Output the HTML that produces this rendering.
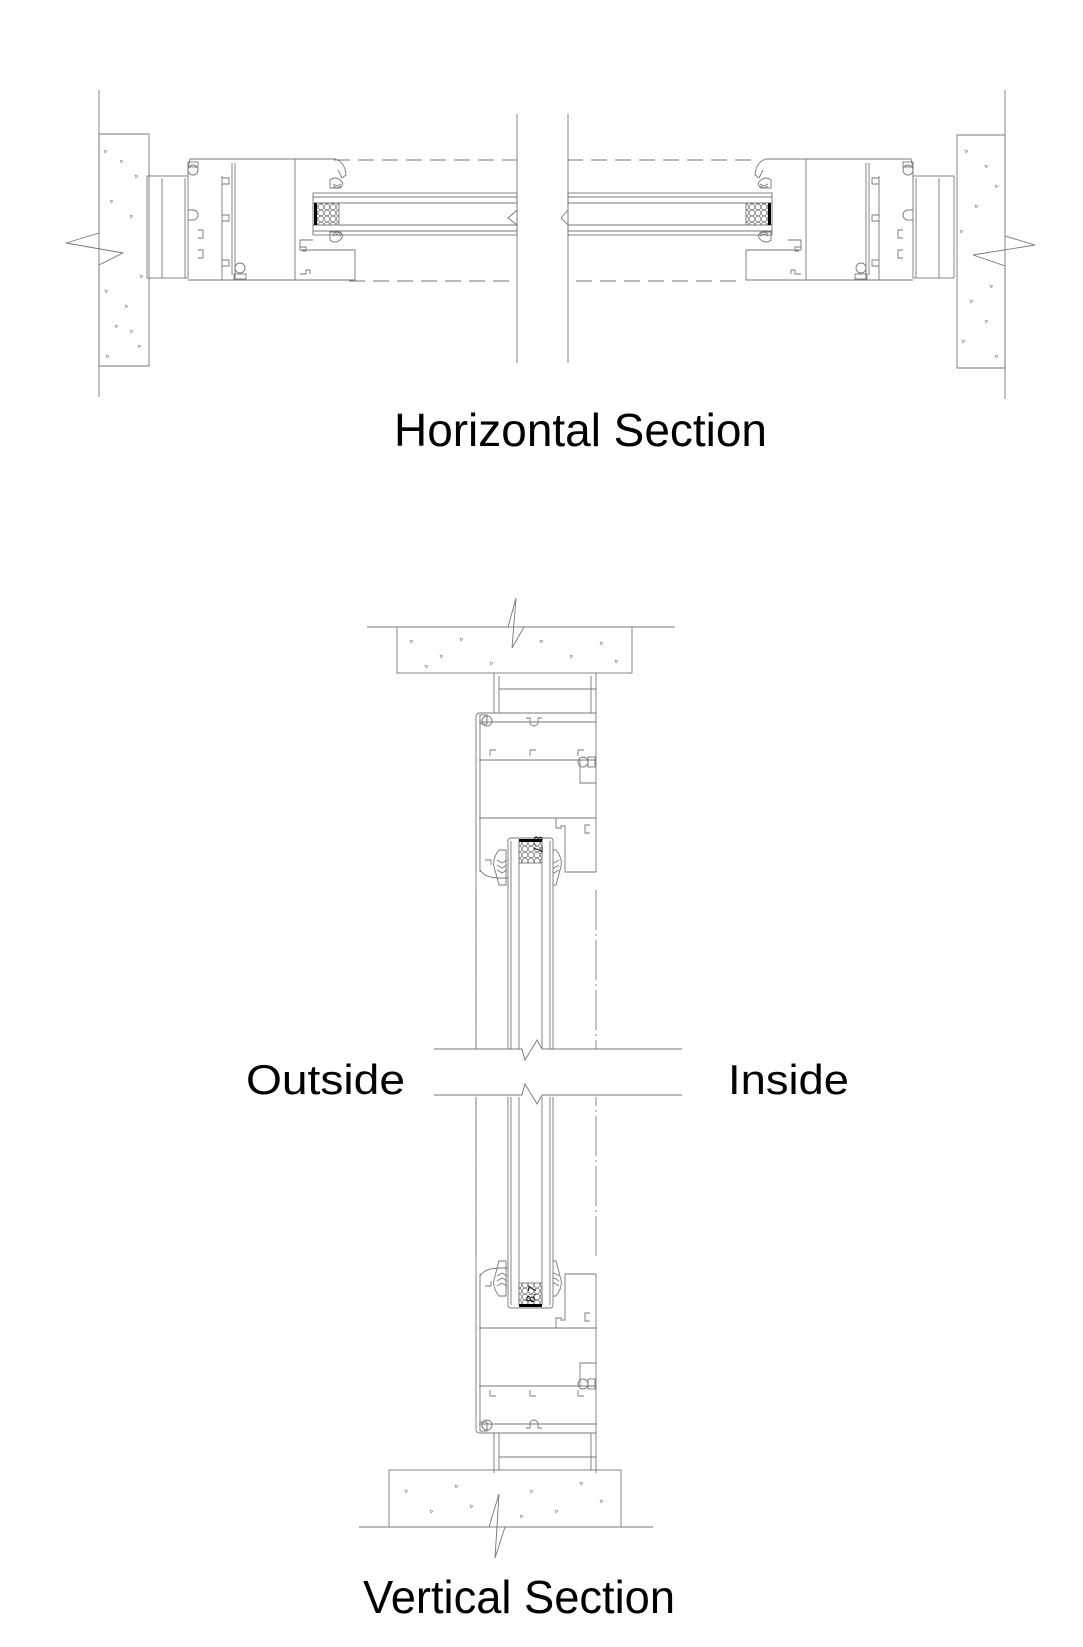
<!DOCTYPE html>
<html><head><meta charset="utf-8"><style>
html,body{margin:0;padding:0;background:#fff;}
svg{display:block}
text{font-family:"Liberation Sans",sans-serif;fill:#000}
</style></head><body>
<svg width="1083" height="1647" viewBox="0 0 1083 1647" xmlns="http://www.w3.org/2000/svg">
<defs>
<pattern id="hex" width="6" height="6" patternUnits="userSpaceOnUse">
<circle cx="3" cy="3" r="2.8" fill="none" stroke="#666" stroke-width="0.6"/>
</pattern>
<g id="speck">
<path d="M0 0 l3 1 l-2 2 z" fill="none" stroke="#888" stroke-width="0.6"/>
</g>
<!-- left half of horizontal section frame -->
<g id="hframe" fill="none" stroke="#777" stroke-width="0.9">
<rect x="147" y="176" width="41" height="102"/>
<line x1="162" y1="178" x2="162" y2="278"/>
<line x1="185" y1="178" x2="185" y2="278"/>
<path d="M188 178 V168 L190 159 H295 V280 H188"/>
<line x1="222" y1="176" x2="222" y2="280"/>
<line x1="235" y1="163" x2="235" y2="280"/>
<line x1="232" y1="163" x2="232" y2="275"/>
<path d="M188 210 h5 a5 5 0 0 1 0 10 h-5"/>
<path d="M198 230 h5 v8 h-5"/>
<path d="M198 250 h5 v8 h-5"/>
<path d="M222 215 h7 v6 h-7"/>
<path d="M222 178 h7 v6 h-7"/>
<path d="M222 260 h7 v6 h-7"/>
<circle cx="193" cy="170" r="5"/>
<rect x="188" y="162" width="10" height="5"/>
<circle cx="240" cy="268" r="5"/>
<rect x="234" y="274" width="12" height="5"/>
<path d="M295 159 H335 Q345 162 346 175 L342 178 L338 170"/>
<path d="M295 280 H355 V250 H300 V240 H313"/>
<path d="M300 247 h6 v4 h-4"/>
<path d="M300 274 h6 v-4 h4 v4"/>
<path d="M330 180 q5 -4 10 0 q5 4 0 8 h-10 z"/>
<path d="M330 240 q5 4 10 0 q5 -4 0 -8 h-10 z"/>
<path d="M333 184 l4 2 l4 -2 M333 186 l4 2 l4 -2 M333 236 l4 -2 l4 2 M333 234 l4 -2 l4 2"/>
</g>
<g id="hglass" fill="none" stroke="#777" stroke-width="0.9">
<rect x="313" y="193" width="204" height="42"/>
<line x1="313" y1="197" x2="517" y2="197"/>
<line x1="313" y1="203" x2="517" y2="203"/>
<line x1="313" y1="225" x2="517" y2="225"/>
<line x1="313" y1="231" x2="517" y2="231"/>
<rect x="316" y="203" width="23" height="22" fill="url(#hex)"/>
<rect x="314" y="203" width="3" height="22" fill="#000" stroke="none"/>
<path d="M334 160 H517" stroke-dasharray="16 8"/>
<path d="M349 281 H517" stroke-dasharray="16 8"/>
</g>
</defs>

<!-- ===== HORIZONTAL SECTION ===== -->
<g fill="none" stroke="#777" stroke-width="0.9">
<line x1="99" y1="90" x2="99" y2="397"/>
<line x1="1005" y1="90" x2="1005" y2="399"/>
<line x1="517" y1="114" x2="517" y2="363"/>
<line x1="568" y1="114" x2="568" y2="363"/>
<path d="M99 134 H149 V366 H99 V265 L123 253 L66 243 L99 233 Z"/>
<path d="M1005 135 H957 V368 H1005 V266 L973 255 L1035 245 L1005 236 Z"/>
<path d="M517 193 V210 L508 218 L517 225 V235"/>
<path d="M568 193 V210 L561 218 L568 225 V235"/>
</g>
<g>
<use href="#speck" x="104" y="150"/><use href="#speck" x="120" y="160"/><use href="#speck" x="135" y="175"/>
<use href="#speck" x="110" y="200"/><use href="#speck" x="130" y="215"/><use href="#speck" x="140" y="275"/>
<use href="#speck" x="105" y="290"/><use href="#speck" x="125" y="305"/><use href="#speck" x="115" y="325"/>
<use href="#speck" x="138" y="345"/><use href="#speck" x="106" y="355"/><use href="#speck" x="130" y="330"/>
<use href="#speck" x="965" y="150"/><use href="#speck" x="985" y="165"/><use href="#speck" x="995" y="185"/>
<use href="#speck" x="975" y="205"/><use href="#speck" x="960" y="230"/><use href="#speck" x="990" y="285"/>
<use href="#speck" x="970" y="300"/><use href="#speck" x="985" y="320"/><use href="#speck" x="962" y="340"/>
<use href="#speck" x="995" y="355"/>
</g>
<use href="#hframe"/>
<use href="#hglass"/>
<g transform="translate(1101,0) scale(-1,1)">
<use href="#hframe"/>
</g>
<g transform="translate(1085,0) scale(-1,1)">
<use href="#hglass"/>
</g>
<text x="394" y="446" font-size="46" textLength="373" lengthAdjust="spacingAndGlyphs">Horizontal Section</text>

<!-- ===== VERTICAL SECTION ===== -->
<defs>
<g id="vframe" fill="none" stroke="#777" stroke-width="0.9">
<path d="M494 673 V713 H596 V673"/>
<line x1="499" y1="689" x2="596" y2="689"/>
<line x1="499" y1="676" x2="499" y2="713"/>
<line x1="591" y1="676" x2="591" y2="713"/>
<path d="M480 713 H596 V760 M476 717 V1049"/>
<path d="M476 717 Q476 713 480 713"/>
<line x1="479" y1="722" x2="596" y2="722"/>
<line x1="479" y1="760" x2="596" y2="760"/>
<line x1="479" y1="818" x2="596" y2="818"/>
<line x1="480" y1="722" x2="480" y2="872"/>
<path d="M596 760 V872"/>
<path d="M580 760 V783 H596"/>
<path d="M530 722 a4 4 0 0 0 8 0"/>
<path d="M530 722 v-4 h-4 M538 722 v-4 h4"/>
<path d="M490 756 v-6 h6 M530 756 v-6 h6 M578 756 v-6 h6"/>
<circle cx="487" cy="721" r="5"/>
<rect x="480" y="715" width="7" height="9"/>
<circle cx="583" cy="762" r="5"/>
<rect x="588" y="757" width="7" height="10"/>
<path d="M556 818 v10 h6 M560 826 h5 V872 H596"/>
<path d="M590 825 h-5 v8 h5"/>
<path d="M480 870 Q485 878 500 878 H508"/>
<path d="M485 860 h6 v5"/>
<path d="M495 870 q-4 -10 4 -20 h7 v35 h-7 z"/>
<path d="M560 870 q4 -10 -4 -20 h-7 v35 h7 z"/>
<path d="M497 860 l5 3 l5 -3 M497 865 l5 3 l5 -3 M497 870 l5 3 l5 -3"/>
<path d="M549 860 l5 3 l5 -3 M549 865 l5 3 l5 -3 M549 870 l5 3 l5 -3"/>
<line x1="476" y1="890" x2="476" y2="1049" stroke-dasharray="40 4 2 4"/>
<line x1="596" y1="890" x2="596" y2="1049" stroke-dasharray="40 4 2 4"/>
<rect x="508" y="838" width="45" height="211" stroke="none" fill="#fff"/>
<path d="M508 1049 V841 Q508 838 511 838 H550 Q553 838 553 841 V1049"/>
<line x1="511" y1="841" x2="511" y2="1049"/>
<line x1="519" y1="841" x2="519" y2="1049"/>
<line x1="542" y1="841" x2="542" y2="1049"/>
<line x1="550" y1="841" x2="550" y2="1049"/>
<rect x="519" y="841" width="23" height="22" fill="url(#hex)"/>
<rect x="519" y="839" width="23" height="3" fill="#000" stroke="none"/>
</g>
</defs>
<use href="#vframe"/>
<g transform="translate(0,2146) scale(1,-1)"><use href="#vframe"/></g>
<text transform="translate(534,836) rotate(90)" font-size="12">8.7</text>
<text transform="translate(534,1303) rotate(-80)" font-size="12">8.7</text>

<g fill="#fff" stroke="#777" stroke-width="0.9">
<rect x="430" y="1050" width="260" height="44" stroke="none"/>
</g>
<g fill="none" stroke="#777" stroke-width="0.9">
<path d="M434 1049 H522 L525 1060 L537 1040 L542 1049 H682"/>
<path d="M434 1095 H522 L525 1084 L537 1104 L542 1095 H682"/>
<!-- top slab -->
<path d="M367 627 H508 L516 598 L512 648 L524 627 H675"/>
<rect x="397" y="627" width="235" height="46"/>
<!-- bottom slab -->
<rect x="389" y="1470" width="232" height="57"/>
<path d="M359 1527 H489 L499 1494 L495 1558 L505 1527 H653"/>
</g>
<g>
<use href="#speck" x="410" y="640"/><use href="#speck" x="440" y="655"/><use href="#speck" x="460" y="638"/>
<use href="#speck" x="490" y="662"/><use href="#speck" x="540" y="640"/><use href="#speck" x="570" y="655"/>
<use href="#speck" x="600" y="642"/><use href="#speck" x="615" y="660"/><use href="#speck" x="425" y="665"/>
<use href="#speck" x="405" y="1490"/><use href="#speck" x="430" y="1510"/><use href="#speck" x="455" y="1485"/>
<use href="#speck" x="470" y="1505"/><use href="#speck" x="530" y="1490"/><use href="#speck" x="555" y="1510"/>
<use href="#speck" x="580" y="1482"/><use href="#speck" x="600" y="1500"/><use href="#speck" x="520" y="1515"/>
</g>
<text x="246" y="1094" font-size="42" textLength="159" lengthAdjust="spacingAndGlyphs">Outside</text>
<text x="728" y="1094" font-size="42" textLength="121" lengthAdjust="spacingAndGlyphs">Inside</text>
<text x="363" y="1613" font-size="46" textLength="312" lengthAdjust="spacingAndGlyphs">Vertical Section</text>
</svg>
</body></html>
